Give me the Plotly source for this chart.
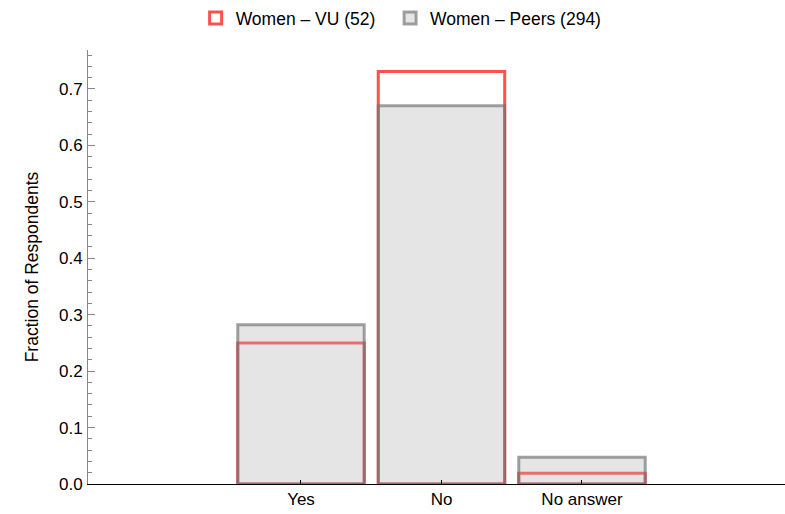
import plotly.graph_objects as go

categories = ["Yes", "No", "No answer"]
cat_pos = [1, 2, 3]
vu_values = [13/52, 38/52, 1/52]
peer_values = [83/294, 197/294, 14/294]
vu_name = "Women – VU (52)\u00a0\u00a0"
peer_name = "Women – Peers (294)"
y_ticks = [0.0, 0.1, 0.2, 0.3, 0.4, 0.5, 0.6, 0.7]

FONT = "Liberation Sans, Arial, sans-serif"

fig = go.Figure()
fig.add_trace(go.Bar(
    x=cat_pos, y=vu_values, name=vu_name, width=0.9,
    marker=dict(color="rgba(255,255,255,0)",
                line=dict(color="rgba(255,80,80,1)", width=3)),
))
fig.add_trace(go.Bar(
    x=cat_pos, y=peer_values, name=peer_name, width=0.9,
    marker=dict(color="rgba(175,175,175,0.33)",
                line=dict(color="rgba(110,110,110,0.65)", width=3)),
))

fig.update_layout(
    width=785, height=514,
    barmode="overlay",
    plot_bgcolor="white", paper_bgcolor="white",
    margin=dict(l=88, r=0, t=50, b=30, autoexpand=False),
    font=dict(family=FONT, size=17, color="black"),
    legend=dict(orientation="h", xref="container", x=0.511, xanchor="center",
                yref="container", y=1.0, yanchor="top",
                font=dict(family=FONT, size=17.5),
                itemwidth=30),
    showlegend=True,
)
fig.update_xaxes(
    range=[-0.516, 4.445], tickvals=cat_pos, ticktext=categories,
    showline=True, linecolor="black", linewidth=1,
    ticks="inside", ticklen=4, tickcolor="black",
    showgrid=False, zeroline=False, automargin=False,
    tickfont=dict(family=FONT, size=17),
)
fig.update_yaxes(
    range=[0, 0.769], tickvals=y_ticks, tickformat=".1f",
    showline=True, linecolor="#888888", linewidth=1,
    ticks="inside", ticklen=7, tickcolor="#888888",
    minor=dict(dtick=0.02, ticks="inside", ticklen=4, tickcolor="#888888"),
    showgrid=False, zeroline=False, automargin=False,
    tickfont=dict(family=FONT, size=17),
    ticklabelstandoff=1,
    title=dict(text="Fraction of Respondents", font=dict(family=FONT, size=17.5)),
)
fig.write_html(
    "out.html",
    config={"displayModeBar": False},
    post_script="document.body.style.margin='0';document.body.style.overflow='hidden';",
)
